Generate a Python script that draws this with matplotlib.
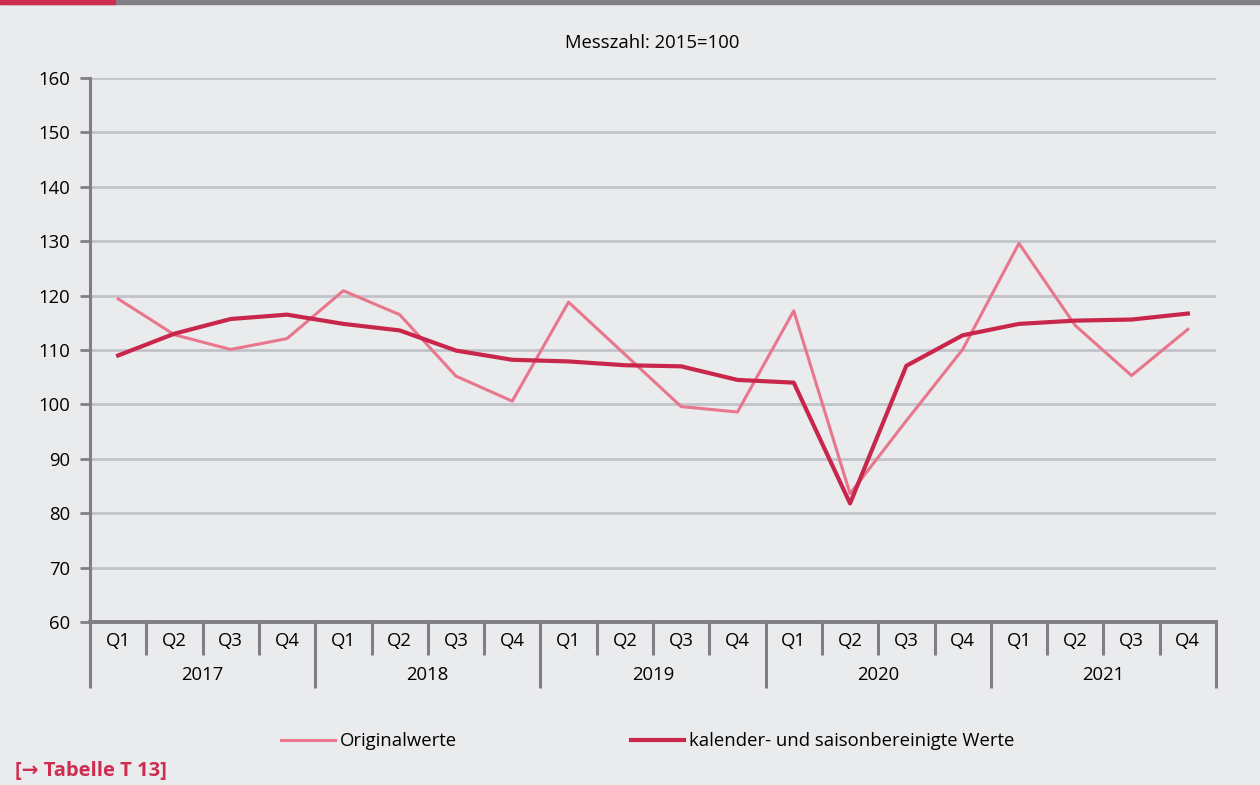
import matplotlib.pyplot as plt
from matplotlib.transforms import blended_transform_factory

# --- data ---
years = ['2017', '2018', '2019', '2020', '2021']
quarters = ['Q1', 'Q2', 'Q3', 'Q4']
original = [119.4, 112.8, 110.1, 112.1,
            120.9, 116.5, 105.2, 100.6,
            118.8, 109.2, 99.6, 98.6,
            117.2, 83.6, 97.0, 110.1,
            129.6, 114.5, 105.3, 113.8]
adjusted = [109.0, 113.0, 115.7, 116.5,
            114.8, 113.6, 109.9, 108.2,
            107.9, 107.2, 107.0, 104.5,
            104.0, 81.8, 107.1, 112.7,
            114.8, 115.4, 115.6, 116.7]

BG = '#eaebed'
GRID = '#c2c3c8'
AXIS = '#7f7f85'
PINK = '#e8768d'
RED = '#c9264b'
FS = 13.3

plt.rcParams['font.family'] = ['Open Sans', 'DejaVu Sans']
plt.rcParams['font.size'] = FS

fig = plt.figure(figsize=(12.6, 7.85), dpi=100, facecolor=BG)
ax = fig.add_axes([90 / 1260, 1 - 622 / 785, 1126 / 1260, 544 / 785], facecolor=BG)

# top bar
fig.patches.append(plt.Rectangle((0, 1 - 4 / 785), 1, 4 / 785, transform=fig.transFigure,
                                 color=AXIS, zorder=0))
fig.patches.append(plt.Rectangle((0, 1 - 4 / 785), 115 / 1260, 4 / 785, transform=fig.transFigure,
                                 color='#cc2d50', zorder=1))

n = len(original)
x = list(range(n))
ax.plot(x, original, color=PINK, lw=2.2, label='Originalwerte', zorder=3)
ax.plot(x, adjusted, color=RED, lw=3.0, label='kalender- und saisonbereinigte Werte', zorder=4)

ax.set_xlim(-0.5, n - 0.5)
ax.set_ylim(60, 160)
ax.set_yticks(range(60, 161, 10))
ax.yaxis.grid(True, color=GRID, lw=2)
ax.set_axisbelow(True)

for s in ['top', 'right']:
    ax.spines[s].set_visible(False)
ax.spines['left'].set_color(AXIS)
ax.spines['left'].set_linewidth(2.2)
ax.spines['bottom'].set_color(AXIS)
ax.spines['bottom'].set_linewidth(2.8)
ax.tick_params(axis='y', length=7, width=2, color=AXIS, pad=7, labelsize=FS)

ax.set_xticks(x)
ax.set_xticklabels(quarters * len(years), fontsize=FS)
ax.tick_params(axis='x', length=0, pad=7)

# category separators below the axis
trans = blended_transform_factory(ax.transData, ax.transAxes)
for i in range(n + 1):
    xs = i - 0.5
    low = -0.122 if i % 4 == 0 else -0.061
    ax.plot([xs, xs], [0, low], transform=trans, color=AXIS, lw=2.2, clip_on=False,
            solid_capstyle='butt')

for k, yr in enumerate(years):
    ax.text(4 * k + 1.5, -0.097, yr, transform=trans, ha='center', va='center', fontsize=FS)

fig.text(652 / 1260, 1 - 43 / 785, 'Messzahl: 2015=100', ha='center', va='center', fontsize=FS)

fig.legend(loc='center', bbox_to_anchor=(648 / 1260, 1 - 741 / 785), ncol=2, frameon=False,
           handlelength=2.9, handletextpad=0.27, columnspacing=9.4, fontsize=FS)

fig.text(15 / 1260, 1 - 771 / 785, '[\u2192 Tabelle T 13]', ha='left', va='center',
         fontsize=14.5, fontweight='bold', color='#cc2d50')

fig.savefig('out.png', dpi=100, facecolor=BG)
